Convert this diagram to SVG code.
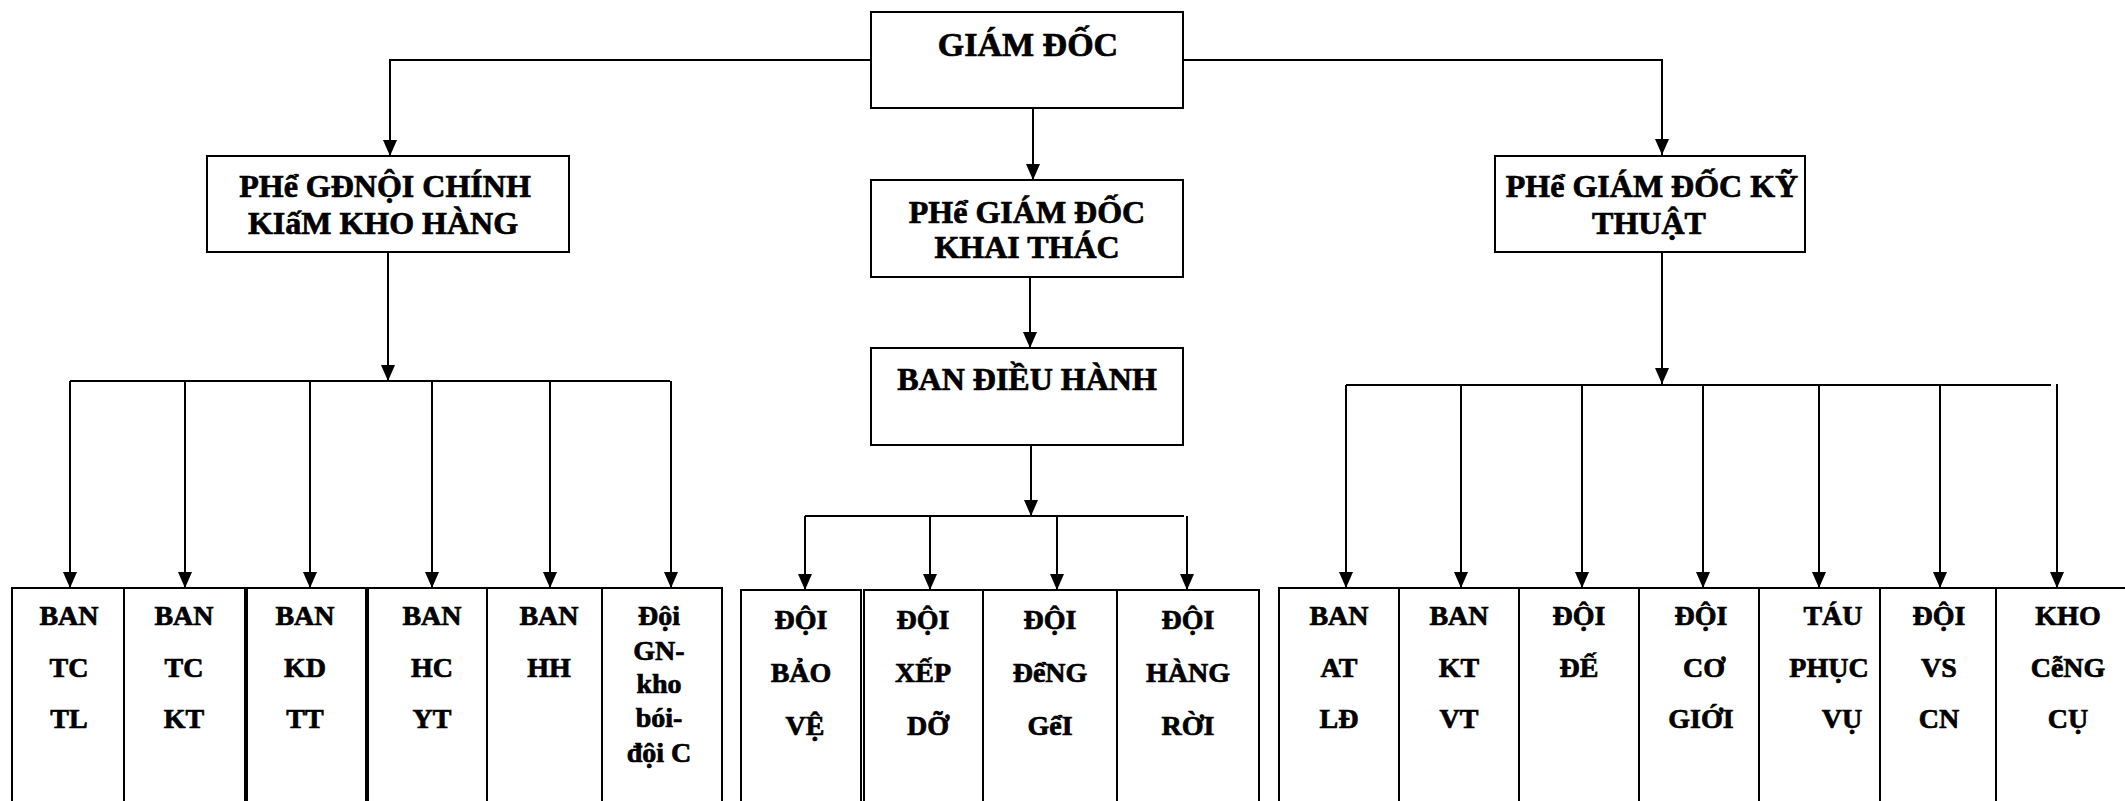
<svg xmlns="http://www.w3.org/2000/svg" width="2125" height="801" viewBox="0 0 2125 801">
<style>
.box{fill:#fff;stroke:#000;stroke-width:2}
.t{font-family:'Liberation Serif','Times New Roman','DejaVu Serif',serif;font-weight:700;fill:#000;stroke:#000;stroke-width:0.7;text-anchor:middle}
.t1{font-size:34px}
.t2{font-size:32px}
.t3{font-size:28px}
.c{fill:none;stroke:#000;stroke-width:2}
.a{marker-end:url(#arr)}
</style>
<defs>
<marker id="arr" markerUnits="userSpaceOnUse" viewBox="0 0 16 14" markerWidth="16" markerHeight="14" refX="16" refY="7" orient="auto">
<path d="M0,0 L16,7 L0,14 z" fill="#000"/>
</marker>
</defs>
<rect width="2125" height="801" fill="#fff"/>
<g id="connectors">
<path class="c a" d="M871 60 H390 V156"/>
<path class="c a" d="M1183 60 H1662 V155"/>
<path class="c a" d="M1033 108 V180"/>
<path class="c a" d="M1030 277 V348"/>
<path class="c a" d="M1031 445 V516"/>
<path class="c" d="M805 516 H1184"/>
<path class="c a" d="M805 516 V590"/>
<path class="c a" d="M930 516 V590"/>
<path class="c a" d="M1057 516 V590"/>
<path class="c a" d="M1187 516 V590"/>
<path class="c a" d="M388 252 V381"/>
<path class="c" d="M70 381 H670"/>
<path class="c a" d="M70 381 V588"/>
<path class="c a" d="M185 381 V588"/>
<path class="c a" d="M310 381 V588"/>
<path class="c a" d="M432 381 V588"/>
<path class="c a" d="M550 381 V588"/>
<path class="c a" d="M671 381 V588"/>
<path class="c a" d="M1662 252 V384"/>
<path class="c" d="M1346 385 H2051"/>
<path class="c a" d="M1346 385 V588"/>
<path class="c a" d="M1461 385 V588"/>
<path class="c a" d="M1582 385 V588"/>
<path class="c a" d="M1703 385 V588"/>
<path class="c a" d="M1819 385 V588"/>
<path class="c a" d="M1940 385 V588"/>
<path class="c a" d="M2057 384 V588"/>
</g>
<g id="giam-doc">
<rect class="box" x="871" y="12" width="312" height="96"/>
<text class="t t1" x="1028" y="56">GIÁM ĐỐC</text>
</g>
<g id="pgd-noi-chinh">
<rect class="box" x="207" y="156" width="362" height="96"/>
<text class="t t2" x="385" y="197">PHể GĐNỘI CHÍNH</text>
<text class="t t2" x="383" y="234">KIấM KHO HÀNG</text>
</g>
<g id="pgd-khai-thac">
<rect class="box" x="871" y="180" width="312" height="97"/>
<text class="t t2" x="1027" y="223">PHể GIÁM ĐỐC</text>
<text class="t t2" x="1027" y="258">KHAI THÁC</text>
</g>
<g id="ban-dieu-hanh">
<rect class="box" x="871" y="348" width="312" height="97"/>
<text class="t t2" x="1027" y="390">BAN ĐIỀU HÀNH</text>
</g>
<g id="pgd-ky-thuat">
<rect class="box" x="1495" y="156" width="310" height="96"/>
<text class="t t2" x="1652" y="197">PHể GIÁM ĐỐC KỸ</text>
<text class="t t2" x="1649" y="234">THUẬT</text>
</g>
<g id="ban-tc-tl">
<rect class="box" x="12" y="588" width="112" height="240"/>
<text class="t t3" x="69" y="625">BAN</text>
<text class="t t3" x="69" y="677">TC</text>
<text class="t t3" x="69" y="728">TL</text>
</g>
<g id="ban-tc-kt">
<rect class="box" x="124" y="588" width="121" height="240"/>
<text class="t t3" x="184" y="625">BAN</text>
<text class="t t3" x="184" y="677">TC</text>
<text class="t t3" x="184" y="728">KT</text>
</g>
<g id="ban-kd-tt">
<rect class="box" x="247" y="588" width="119" height="240"/>
<text class="t t3" x="305" y="625">BAN</text>
<text class="t t3" x="305" y="677">KD</text>
<text class="t t3" x="305" y="728">TT</text>
</g>
<g id="ban-hc-yt">
<rect class="box" x="368" y="588" width="119" height="240"/>
<text class="t t3" x="432" y="625">BAN</text>
<text class="t t3" x="432" y="677">HC</text>
<text class="t t3" x="432" y="728">YT</text>
</g>
<g id="ban-hh">
<rect class="box" x="487" y="588" width="115" height="240"/>
<text class="t t3" x="549" y="625">BAN</text>
<text class="t t3" x="549" y="677">HH</text>
</g>
<g id="doi-gn">
<rect class="box" x="602" y="588" width="120" height="240"/>
<text class="t t3" x="659" y="625">Đội</text>
<text class="t t3" x="659" y="660">GN-</text>
<text class="t t3" x="659" y="693">kho</text>
<text class="t t3" x="659" y="727">bói-</text>
<text class="t t3" x="659" y="762">đội C</text>
</g>
<g id="doi-bao-ve">
<rect class="box" x="741" y="590" width="120" height="240"/>
<text class="t t3" x="801" y="629">ĐỘI</text>
<text class="t t3" x="801" y="682">BẢO</text>
<text class="t t3" x="805" y="735">VỆ</text>
</g>
<g id="doi-xep-do">
<rect class="box" x="864" y="590" width="119" height="240"/>
<text class="t t3" x="923" y="629">ĐỘI</text>
<text class="t t3" x="923" y="682">XẾP</text>
<text class="t t3" x="928" y="735">DỠ</text>
</g>
<g id="doi-dong-goi">
<rect class="box" x="983" y="590" width="134" height="240"/>
<text class="t t3" x="1050" y="629">ĐỘI</text>
<text class="t t3" x="1050" y="682">ĐểNG</text>
<text class="t t3" x="1050" y="735">GểI</text>
</g>
<g id="doi-hang-roi">
<rect class="box" x="1117" y="590" width="142" height="240"/>
<text class="t t3" x="1188" y="629">ĐỘI</text>
<text class="t t3" x="1188" y="682">HÀNG</text>
<text class="t t3" x="1188" y="735">RỜI</text>
</g>
<g id="ban-at-ld">
<rect class="box" x="1279" y="588" width="120" height="240"/>
<text class="t t3" x="1339" y="625">BAN</text>
<text class="t t3" x="1339" y="677">AT</text>
<text class="t t3" x="1339" y="728">LĐ</text>
</g>
<g id="ban-kt-vt">
<rect class="box" x="1399" y="588" width="120" height="240"/>
<text class="t t3" x="1459" y="625">BAN</text>
<text class="t t3" x="1459" y="677">KT</text>
<text class="t t3" x="1459" y="728">VT</text>
</g>
<g id="doi-de">
<rect class="box" x="1519" y="588" width="120" height="240"/>
<text class="t t3" x="1579" y="625">ĐỘI</text>
<text class="t t3" x="1579" y="677">ĐẾ</text>
</g>
<g id="doi-co-gioi">
<rect class="box" x="1639" y="588" width="120" height="240"/>
<text class="t t3" x="1701" y="625">ĐỘI</text>
<text class="t t3" x="1704" y="677">CƠ</text>
<text class="t t3" x="1701" y="728">GIỚI</text>
</g>
<g id="tau-phuc-vu">
<rect class="box" x="1759" y="588" width="121" height="240"/>
<text class="t t3" x="1833" y="625">TÁU</text>
<text class="t t3" x="1829" y="677">PHỤC</text>
<text class="t t3" x="1842" y="728">VỤ</text>
</g>
<g id="doi-vs-cn">
<rect class="box" x="1880" y="588" width="116" height="240"/>
<text class="t t3" x="1939" y="625">ĐỘI</text>
<text class="t t3" x="1939" y="677">VS</text>
<text class="t t3" x="1939" y="728">CN</text>
</g>
<g id="kho-cong-cu">
<rect class="box" x="1996" y="588" width="150" height="240"/>
<text class="t t3" x="2068" y="625">KHO</text>
<text class="t t3" x="2068" y="677">CễNG</text>
<text class="t t3" x="2068" y="728">CỤ</text>
</g>
</svg>
